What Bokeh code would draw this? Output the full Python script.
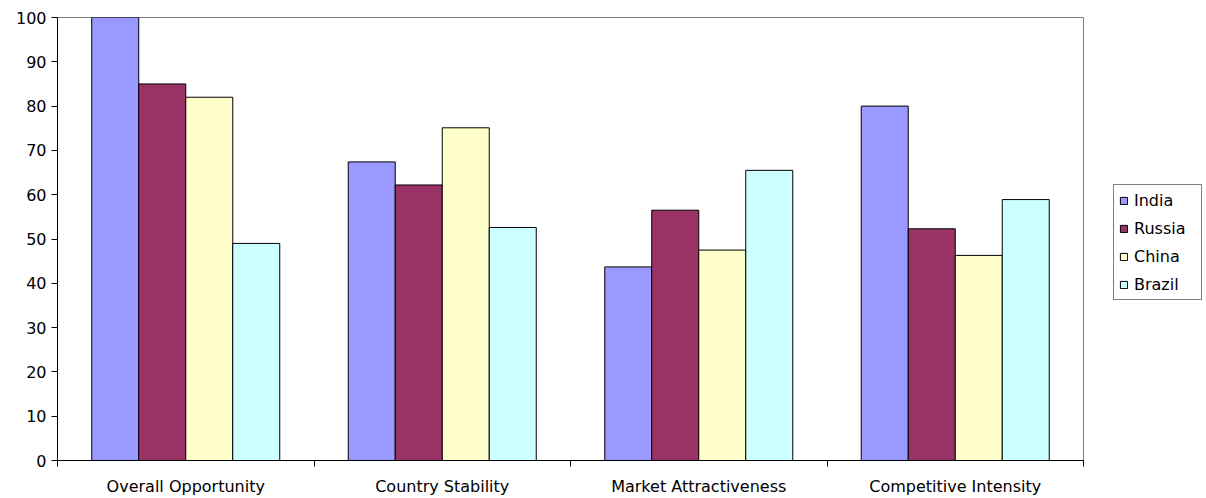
from bokeh.plotting import figure
from bokeh.models import FixedTicker, Legend, LegendItem, ColumnDataSource, Range1d
from bokeh.layouts import row
from bokeh.embed import file_html
from bokeh.resources import INLINE

categories = ["Overall Opportunity", "Country Stability", "Market Attractiveness", "Competitive Intensity"]
series_names = ["India", "Russia", "China", "Brazil"]
india = [100, 67.4, 43.7, 80]
russia = [85, 62.2, 56.5, 52.3]
china = [82, 75.1, 47.5, 46.3]
brazil = [49, 52.6, 65.5, 58.9]
colors = ["#9999FF", "#993366", "#FFFFCC", "#CCFFFF"]
y_ticks = list(range(0, 101, 10))

font = "DejaVu Sans"
fsize = "16px"

p = figure(width=1113, height=498, output_backend="svg", toolbar_location=None,
           x_range=Range1d(0, len(categories)), y_range=Range1d(0, 100),
           min_border_left=57, min_border_right=30, min_border_top=17, min_border_bottom=36)
p.background_fill_color = "white"
p.border_fill_color = "white"
p.outline_line_color = "#808080"
p.outline_line_width = 1
p.xgrid.visible = False
p.ygrid.visible = False

bar_w = 0.733 / 4
offsets = [-1.5 * bar_w, -0.5 * bar_w, 0.5 * bar_w, 1.5 * bar_w]
all_vals = [india, russia, china, brazil]
for name, vals, col, off in zip(series_names, all_vals, colors, offsets):
    src = ColumnDataSource(dict(x=[i + 0.5 + off for i in range(len(categories))], top=vals))
    p.vbar(x="x", top="top", width=bar_w, bottom=0, source=src,
           fill_color=col, line_color="black", line_width=1)

# x axis
p.xaxis.ticker = FixedTicker(ticks=[i + 0.5 for i in range(len(categories))],
                             minor_ticks=list(range(len(categories) + 1)))
p.xaxis.major_label_overrides = {i + 0.5: c for i, c in enumerate(categories)}
p.xaxis.major_tick_in = 0
p.xaxis.major_tick_out = 0
p.xaxis.minor_tick_in = 0
p.xaxis.minor_tick_out = 6
p.xaxis.minor_tick_line_color = "black"
p.xaxis.axis_line_color = "black"
p.xaxis.major_label_text_font = font
p.xaxis.major_label_text_font_size = fsize
p.xaxis.major_label_text_color = "black"
p.xaxis.major_label_standoff = 10

# y axis
p.yaxis.ticker = FixedTicker(ticks=y_ticks, minor_ticks=[])
p.yaxis.major_tick_in = 0
p.yaxis.major_tick_out = 6
p.yaxis.major_tick_line_color = "black"
p.yaxis.axis_line_color = "black"
p.yaxis.major_label_text_font = font
p.yaxis.major_label_text_font_size = fsize
p.yaxis.major_label_text_color = "black"
p.yaxis.major_label_standoff = 5

# legend panel (series drawn far out of view so the legend has real glyphs)
lg = figure(width=93, height=498, output_backend="svg", toolbar_location=None,
            x_axis_type=None, y_axis_type=None,
            x_range=Range1d(-1000, -999), y_range=Range1d(-1000, -999),
            min_border=0)
lg.outline_line_color = None
lg.xgrid.visible = False
lg.ygrid.visible = False
items = []
for name, vals, col in zip(series_names, all_vals, colors):
    src = ColumnDataSource(dict(x=list(range(len(vals))), top=vals))
    r = lg.vbar(x="x", top="top", bottom=0, width=0.1, source=src,
                fill_color=col, line_color="black", line_width=1)
    items.append(LegendItem(label=name, renderers=[r], index=0))
legend = Legend(items=items, location=(0, 160), orientation="vertical",
                border_line_color="black", border_line_width=1,
                background_fill_color="white", background_fill_alpha=1,
                label_text_font=font, label_text_font_size=fsize, label_text_color="black",
                glyph_width=9, glyph_height=9, spacing=8, label_height=20, label_width=62,
                padding=5, margin=0, label_standoff=6)
lg.add_layout(legend, "center")

layout = row(p, lg, spacing=0)
open("out.html", "w").write(file_html(layout, INLINE))
